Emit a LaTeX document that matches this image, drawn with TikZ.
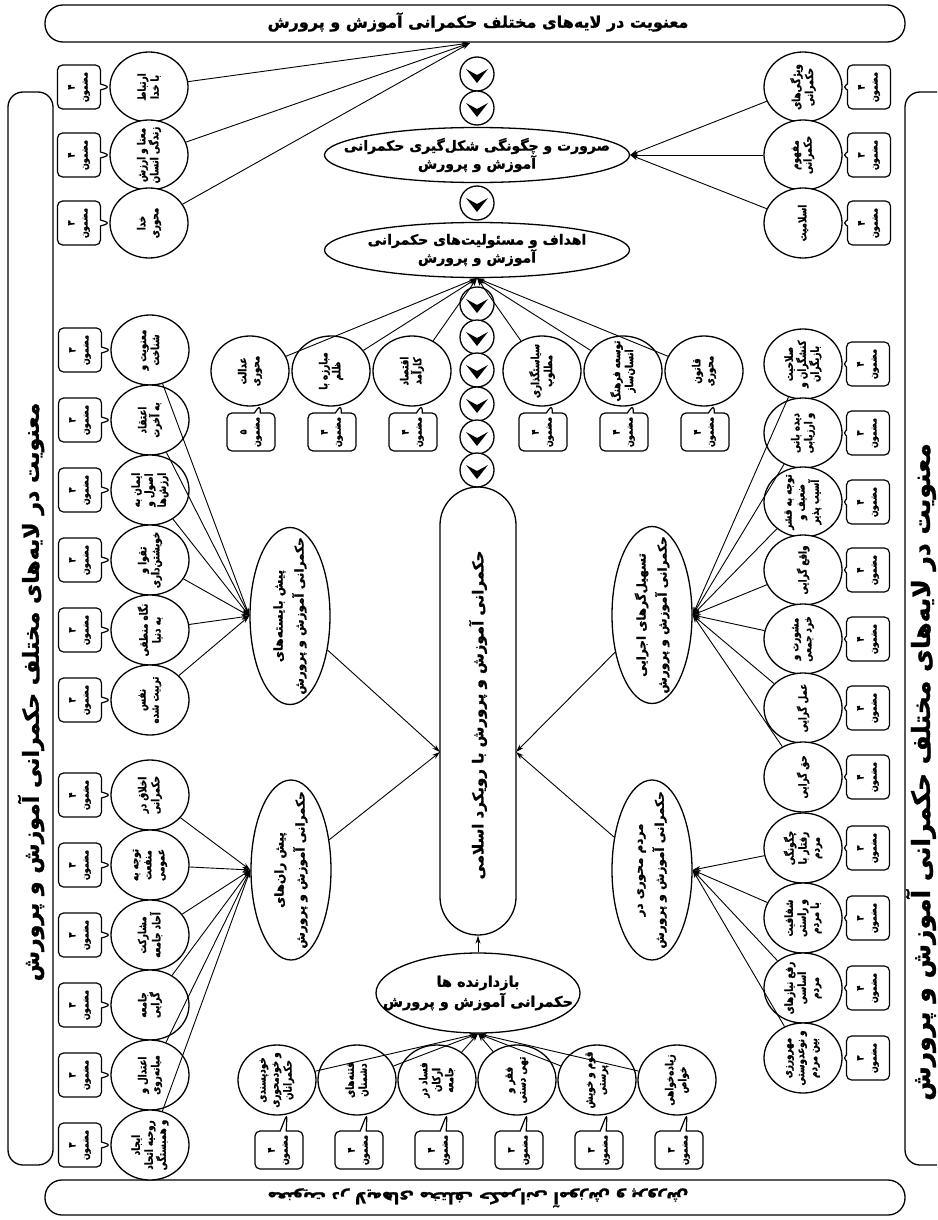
\documentclass[tikz,border=0pt]{standalone}
\usepackage{fontspec}
\usetikzlibrary{shapes.geometric,shapes.callouts,arrows.meta,calc}
\newfontfamily\pfont[Script=Arabic,BoldFeatures={FakeBold=1.2}]{DejaVu Sans}
\newfontfamily\pnarrow[Script=Arabic,FakeStretch=0.8,BoldFeatures={FakeBold=1.2}]{DejaVu Sans}
\TeXXeTstate=1
\newcommand\rl[1]{\beginR#1\endR}

\tikzset{
  arr/.style={line width=0.9pt,-{Stealth[length=8pt,width=5pt]}},
  tc/.style={ellipse,draw,line width=1.3pt,fill=white,inner sep=0pt,minimum width=78pt,minimum height=70pt},
  vt/.style={rotate=90,align=center,inner sep=0pt,font=\pnarrow\bfseries\fontsize{11pt}{13pt}\selectfont},
  cb/.style={rectangle callout,draw,line width=1.2pt,fill=white,rounded corners=5pt,inner sep=0pt,
             minimum width=43pt,minimum height=44pt,callout pointer width=6pt},
  cbh/.style={cb,minimum width=48pt,minimum height=38pt},
  ct/.style={rotate=90,align=center,inner sep=0pt,font=\pnarrow\bfseries\fontsize{10pt}{13pt}\selectfont},
  chev/.style={circle,draw,line width=1.3pt,fill=white,minimum size=34pt,inner sep=0pt,
    path picture={\fill[black] (path picture bounding box.center) ++(-11,-5) -- ++(11,6) -- ++(11,-6) -- ++(-11,14) -- cycle;}},
  band/.style={draw,line width=1.3pt,inner sep=0pt},
  bigell/.style={ellipse,draw,line width=1.3pt,fill=white,inner sep=0pt},
  htxt/.style={align=center,inner sep=0pt,font=\pfont\bfseries\fontsize{14pt}{18pt}\selectfont},
  gtxt/.style={rotate=90,align=center,inner sep=0pt,font=\pfont\bfseries\fontsize{12pt}{21pt}\selectfont},
  bandtxt/.style={inner sep=0pt,font=\pfont\bfseries\fontsize{16pt}{18pt}\selectfont},
}

% a theme circle with its vertical caption
\newcommand\topic[3]{\node[tc] (#1) at (#2) {}; \node[vt] (#1-t) at (#1.center) {#3};}
% a count box pointing at its theme
\newcommand\tally[5]{\node[#2,callout absolute pointer={#5}] (#1) at (#3) {};
  \node[ct] (#1-t) at (#1.center) {\rl{#4}\\\rl{مضمون}};}

\begin{document}
\begin{tikzpicture}[x=1pt,y=-1pt]
\clip (0,0) rectangle (937,1220);
\fill[white] (0,0) rectangle (937,1220);

% ---------- frame bands ----------
\node[band,rounded corners=18pt,minimum width=860pt,minimum height=37pt] (head) at (475,23.5) {};
\node[bandtxt] (head-t) at (478,22)
  {\rl{معنویت در لایه‌های مختلف حکمرانی آموزش و پرورش}};
\node[band,rounded corners=17pt,minimum width=860pt,minimum height=35pt] (foot) at (475,1197.5) {};
\node[bandtxt,rotate=180] (foot-t) at (478,1198)
  {\rl{معنویت در لایه‌های مختلف حکمرانی آموزش و پرورش}};
\node[band,rounded corners=15pt,minimum width=45pt,minimum height=1073pt] (sideL) at (30.5,628.5) {};
\node[bandtxt,rotate=90,font=\pfont\bfseries\fontsize{22pt}{24pt}\selectfont] (sideL-t) at (31,692)
  {\rl{معنویت در لایه‌های مختلف حکمرانی آموزش و پرورش}};
\node[band,rounded corners=15pt,minimum width=50pt,minimum height=1073pt] (sideR) at (930,628.5) {};
\node[bandtxt,rotate=90,font=\pfont\bfseries\fontsize{25pt}{27pt}\selectfont] (sideR-t) at (921,772)
  {\rl{معنویت در لایه‌های مختلف حکمرانی آموزش و پرورش}};

% ---------- central spine ----------
\node[chev] (ch1) at (477,74) {};
\node[chev] (ch2) at (477,108) {};
\node[bigell,minimum width=305pt,minimum height=55pt] (e1) at (477,155) {};
\node[htxt] (e1-t) at (477,155) {\rl{صرورت و چگونگی شکل‌گیری حکمرانی}\\\rl{آموزش و پرورش}};
\node[chev] (ch3) at (477,203) {};
\node[bigell,minimum width=305pt,minimum height=55pt] (e2) at (477,250) {};
\node[htxt] (e2-t) at (477,250) {\rl{اهداف و مسئولیت‌های حکمرانی}\\\rl{آموزش و پرورش}};
\node[chev] (ch4) at (477,304) {};
\node[chev] (ch5) at (477,337) {};
\node[chev] (ch6) at (477,370) {};
\node[chev] (ch7) at (477,404) {};
\node[chev] (ch8) at (477,437) {};
\node[chev] (ch9) at (477,470) {};
\node[draw,line width=1.3pt,rounded corners=38pt,minimum width=76pt,minimum height=448pt,inner sep=0pt] (core) at (478,711) {};
\node[rotate=90,inner sep=0pt,font=\pfont\bfseries\fontsize{15pt}{18pt}\selectfont] (core-t) at (478,715)
  {\rl{حکمرانی آموزش و پرورش با رویکرد اسلامی}};
\coordinate (kL) at (440,752);
\coordinate (kR) at (516,752);
\coordinate (topT) at (470,43);

% ---------- group ellipses ----------
\node[bigell,minimum width=80pt,minimum height=177pt] (gL1) at (290,616) {};
\node[gtxt] (gL1-t) at (290,616) {\rl{پیش بایسته‌های}\\\rl{حکمرانی آموزش و پرورش}};
\node[bigell,minimum width=80pt,minimum height=180pt] (gL2) at (291,870) {};
\node[gtxt] (gL2-t) at (291,870) {\rl{پیش ران‌های}\\\rl{حکمرانی آموزش و پرورش}};
\node[bigell,minimum width=80pt,minimum height=177pt] (gR1) at (652,615) {};
\node[gtxt] (gR1-t) at (652,615) {\rl{تسهیل‌گرهای اجرایی}\\\rl{حکمرانی آموزش و پرورش}};
\node[bigell,minimum width=80pt,minimum height=180pt] (gR2) at (652,870) {};
\node[gtxt] (gR2-t) at (652,870) {\rl{مردم محوری در}\\\rl{حکمرانی آموزش و پرورش}};
\node[bigell,minimum width=204pt,minimum height=80pt] (bz) at (478,993) {};
\node[htxt,font=\pfont\bfseries\fontsize{14.5pt}{20pt}\selectfont] (bz-t) at (478,993) {\rl{بازدارنده ها}\\\rl{حکمرانی آموزش و پرورش}};

% ---------- top left themes ----------
\topic{tl1}{149,87}{\rl{ارتباط}\\\rl{با خدا}}
\topic{tl2}{149,155}{\rl{معنا و ارزش}\\\rl{زندگی انسان}}
\topic{tl3}{149,223}{\rl{خدا}\\\rl{محوری}}
\tally{tl1b}{cb}{79,87}{۴}{($(tl1)+(-39,0)$)}
\tally{tl2b}{cb}{79,155}{۴}{($(tl2)+(-39,0)$)}
\tally{tl3b}{cb}{79,223}{۳}{($(tl3)+(-39,0)$)}

% ---------- top right themes ----------
\topic{tr1}{803,87}{\rl{ویژگی‌های}\\\rl{حکمرانی}}
\topic{tr2}{803,155}{\rl{مفهوم}\\\rl{حکمرانی}}
\topic{tr3}{803,223}{\rl{اسلامیت}}
\tally{tr1b}{cb}{869,87}{۴}{($(tr1)+(39,0)$)}
\tally{tr2b}{cb}{869,155}{۳}{($(tr2)+(39,0)$)}
\tally{tr3b}{cb}{869,223}{۴}{($(tr3)+(39,0)$)}

% ---------- goals row ----------
\topic{m1}{250,371}{\rl{عدالت}\\\rl{محوری}}
\topic{m2}{331,371}{\rl{مبارزه با}\\\rl{ظلم}}
\topic{m3}{412,371}{\rl{اقتصاد}\\\rl{کارآمد}}
\topic{m4}{542,371}{\rl{سیاستگذاری}\\\rl{مطلوب}}
\topic{m5}{623,371}{\rl{توسعه فرهنگ}\\\rl{انسان‌ساز}}
\topic{m6}{704,371}{\rl{قانون}\\\rl{محوری}}
\tally{m1b}{cbh}{251,432}{۵}{($(m1)+(10,34)$)}
\tally{m2b}{cbh}{332,432}{۴}{($(m2)+(10,34)$)}
\tally{m3b}{cbh}{413,432}{۴}{($(m3)+(10,34)$)}
\tally{m4b}{cbh}{543,432}{۴}{($(m4)+(10,34)$)}
\tally{m5b}{cbh}{624,432}{۴}{($(m5)+(10,34)$)}
\tally{m6b}{cbh}{705,432}{۴}{($(m6)+(10,34)$)}

% ---------- prerequisites ----------
\topic{lu1}{150,350}{\rl{معنویت و}\\\rl{شناخت}}
\topic{lu2}{150,420}{\rl{اعتقاد}\\\rl{به آخرت}}
\topic{lu3}{150,490}{\rl{ایمان به}\\\rl{اصول و}\\\rl{ارزش‌ها}}
\topic{lu4}{150,560}{\rl{تقوا و}\\\rl{خویشتن‌داری}}
\topic{lu5}{150,630}{\rl{نگاه منطقی}\\\rl{به دنیا}}
\topic{lu6}{150,700}{\rl{نفس}\\\rl{تربیت شده}}
\tally{lu1b}{cb}{80,350}{۳}{($(lu1)+(-39,0)$)}
\tally{lu2b}{cb}{80,420}{۳}{($(lu2)+(-39,0)$)}
\tally{lu3b}{cb}{80,490}{۳}{($(lu3)+(-39,0)$)}
\tally{lu4b}{cb}{80,560}{۳}{($(lu4)+(-39,0)$)}
\tally{lu5b}{cb}{80,630}{۳}{($(lu5)+(-39,0)$)}
\tally{lu6b}{cb}{80,700}{۳}{($(lu6)+(-39,0)$)}

% ---------- drivers ----------
\topic{ll1}{150,795}{\rl{اخلاق در}\\\rl{حکمرانی}}
\topic{ll2}{150,865}{\rl{توجه به}\\\rl{منفعت}\\\rl{عمومی}}
\topic{ll3}{150,935}{\rl{مشارکت}\\\rl{آحاد جامعه}}
\topic{ll4}{150,1005}{\rl{جامعه}\\\rl{گرایی}}
\topic{ll5}{150,1075}{\rl{اعتدال و}\\\rl{میانه‌روی}}
\topic{ll6}{150,1145}{\rl{ایجاد}\\\rl{روحیه اتحاد}\\\rl{و همبستگی}}
\tally{ll1b}{cb}{80,795}{۴}{($(ll1)+(-39,0)$)}
\tally{ll2b}{cb}{80,865}{۳}{($(ll2)+(-39,0)$)}
\tally{ll3b}{cb}{80,935}{۳}{($(ll3)+(-39,0)$)}
\tally{ll4b}{cb}{80,1005}{۳}{($(ll4)+(-39,0)$)}
\tally{ll5b}{cb}{80,1075}{۳}{($(ll5)+(-39,0)$)}
\tally{ll6b}{cb}{80,1145}{۳}{($(ll6)+(-39,0)$)}

% ---------- executive facilitators ----------
\topic{ru1}{803,364}{\rl{صلاحیت}\\\rl{کنشگران و}\\\rl{بازیگران}}
\topic{ru2}{803,433}{\rl{دیده بانی}\\\rl{و ارزیابی}}
\topic{ru3}{803,502}{\rl{توجه به قشر}\\\rl{ضعیف و}\\\rl{آسیب پذیر}}
\topic{ru4}{803,570}{\rl{واقع گرایی}}
\topic{ru5}{803,639}{\rl{مشورت و}\\\rl{خرد جمعی}}
\topic{ru6}{803,708}{\rl{عمل گرایی}}
\topic{ru7}{803,777}{\rl{حق گرایی}}
\tally{ru1b}{cb}{868,364}{۴}{($(ru1)+(39,0)$)}
\tally{ru2b}{cb}{868,433}{۳}{($(ru2)+(39,0)$)}
\tally{ru3b}{cb}{868,502}{۴}{($(ru3)+(39,0)$)}
\tally{ru4b}{cb}{868,570}{۴}{($(ru4)+(39,0)$)}
\tally{ru5b}{cb}{868,639}{۴}{($(ru5)+(39,0)$)}
\tally{ru6b}{cb}{868,708}{۴}{($(ru6)+(39,0)$)}
\tally{ru7b}{cb}{868,777}{۴}{($(ru7)+(39,0)$)}

% ---------- people-centred ----------
\topic{rl1}{803,848}{\rl{چگونگی}\\\rl{رفتار با}\\\rl{مردم}}
\topic{rl2}{803,918}{\rl{شفافیت}\\\rl{و راستی}\\\rl{با مردم}}
\topic{rl3}{803,988}{\rl{رفع نیازهای}\\\rl{اساسی}\\\rl{مردم}}
\topic{rl4}{803,1058}{\rl{مهرورزی}\\\rl{و نوعدوستی}\\\rl{بین مردم}}
\tally{rl1b}{cb}{868,848}{۳}{($(rl1)+(39,0)$)}
\tally{rl2b}{cb}{868,918}{۳}{($(rl2)+(39,0)$)}
\tally{rl3b}{cb}{868,988}{۴}{($(rl3)+(39,0)$)}
\tally{rl4b}{cb}{868,1058}{۳}{($(rl4)+(39,0)$)}

% ---------- inhibitors ----------
\topic{b1}{277,1080}{\rl{خودپسندی}\\\rl{و خودمحوری}\\\rl{حکمرانان}}
\topic{b2}{357,1080}{\rl{فتنه‌های}\\\rl{دشمنان}}
\topic{b3}{437,1080}{\rl{فساد در}\\\rl{ارکان}\\\rl{جامعه}}
\topic{b4}{517,1080}{\rl{فقر و}\\\rl{تهی دستی}}
\topic{b5}{597,1080}{\rl{قوم و خویش}\\\rl{پرستی}}
\topic{b6}{677,1080}{\rl{زیاده‌خواهی}\\\rl{خواص}}
\tally{b1b}{cbh}{279,1150}{۴}{($(b1)+(10,34)$)}
\tally{b2b}{cbh}{359,1150}{۴}{($(b2)+(10,34)$)}
\tally{b3b}{cbh}{439,1150}{۴}{($(b3)+(10,34)$)}
\tally{b4b}{cbh}{519,1150}{۳}{($(b4)+(10,34)$)}
\tally{b5b}{cbh}{599,1150}{۳}{($(b5)+(10,34)$)}
\tally{b6b}{cbh}{679,1150}{۳}{($(b6)+(10,34)$)}

% ---------- connectors ----------
\foreach \n in {tl1,tl2,tl3} \draw[arr] (\n) -- (topT);
\foreach \n in {tr1,tr2,tr3} \draw[arr] (\n) -- (e1.east);
\foreach \n in {m1,m2,m3,m4,m5,m6} \draw[arr] (\n) -- (e2.south);
\foreach \n in {lu1,lu2,lu3,lu4,lu5,lu6} \draw[arr] (\n) -- (gL1.west);
\foreach \n in {ll1,ll2,ll3,ll4,ll5,ll6} \draw[arr] (\n) -- (gL2.west);
\foreach \n in {ru1,ru2,ru3,ru4,ru5,ru6,ru7} \draw[arr] (\n) -- (gR1.east);
\foreach \n in {rl1,rl2,rl3,rl4} \draw[arr] (\n) -- (gR2.east);
\foreach \n in {b1,b2,b3,b4,b5,b6} \draw[arr] (\n) -- (bz.south);
\draw[arr] (gL1) -- (kL);
\draw[arr] (gL2) -- (kL);
\draw[arr] (gR1) -- (kR);
\draw[arr] (gR2) -- (kR);
\draw[arr] (bz) -- (core.south);
\end{tikzpicture}
\end{document}
